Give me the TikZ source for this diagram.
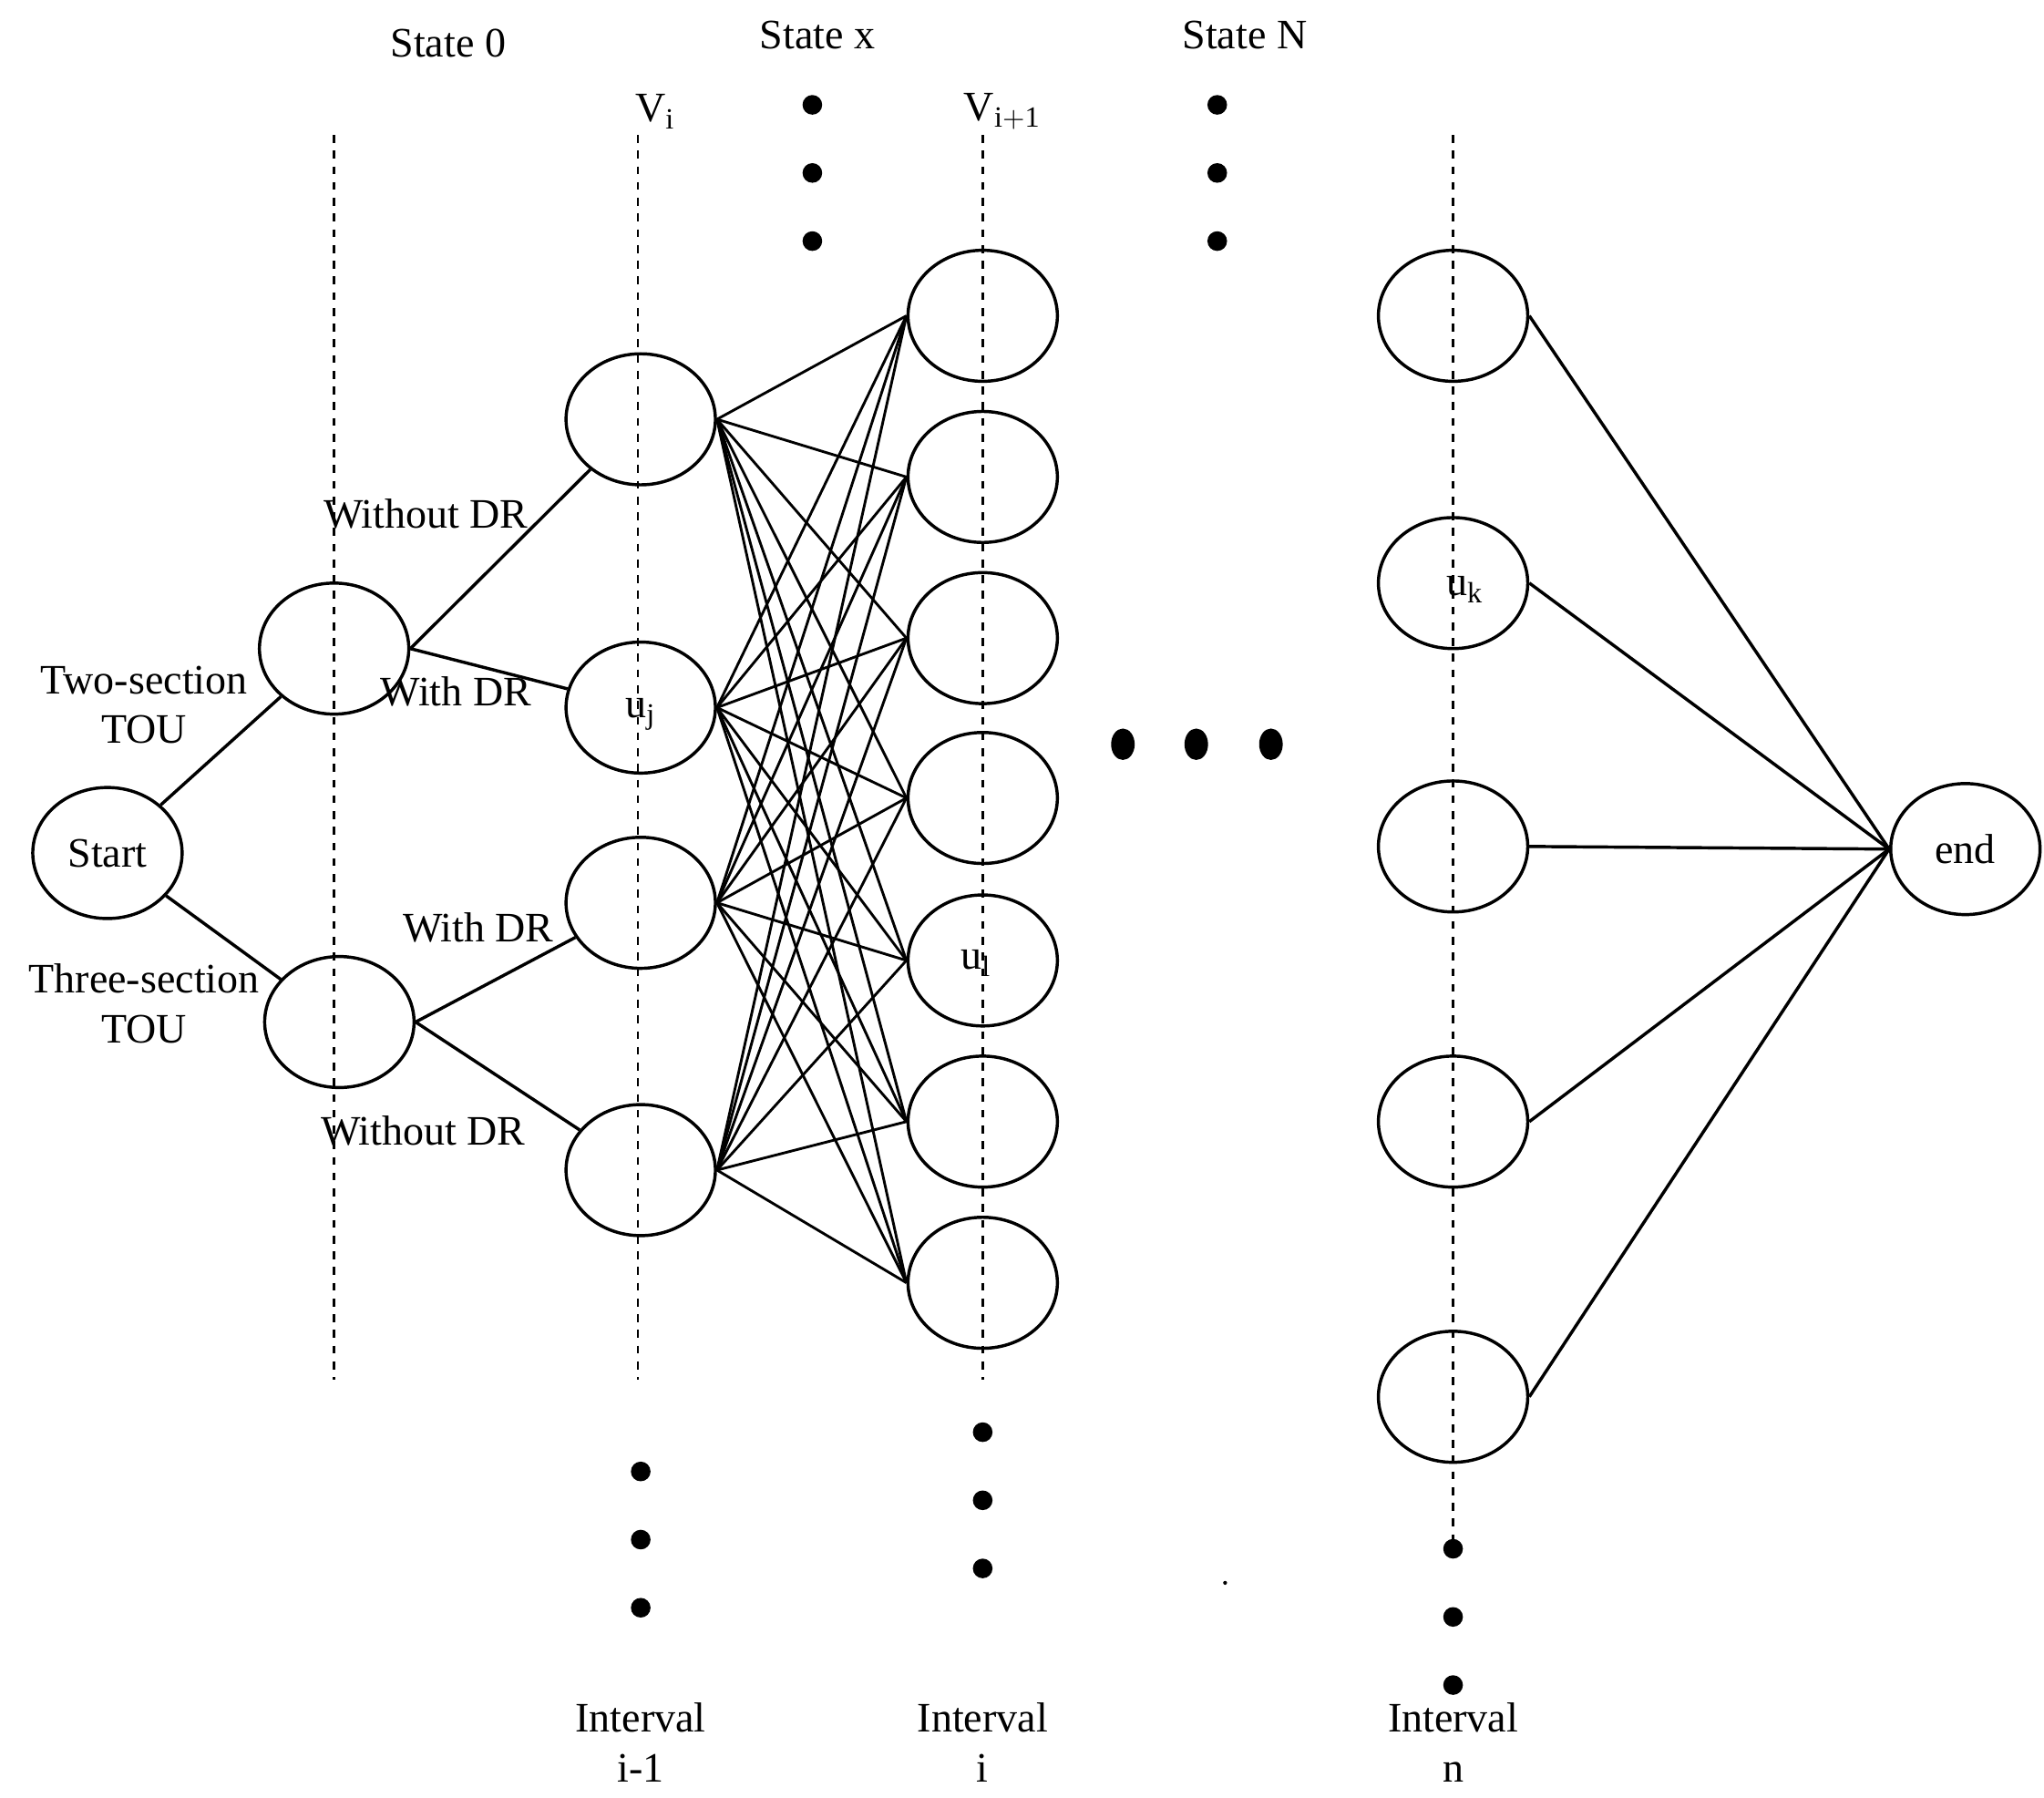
\documentclass[tikz,border=0pt]{standalone}
\usepackage{fontspec}
\setmainfont{Liberation Serif}
\usetikzlibrary{shapes.geometric}
\begin{document}
\begin{tikzpicture}[x=0.5pt,y=-0.5pt,
  nd/.style={draw,line width=1.2pt,ellipse,minimum width=57pt,minimum height=50pt,inner sep=0pt},
  dsh/.style={dashed,line width=0.8pt},
  ln/.style={line width=1.2pt},
  dt/.style={fill,circle,inner sep=0pt,minimum size=7.5pt},
  lb/.style={font=\fontsize{16}{19}\selectfont,align=center,inner sep=0pt}]
\useasboundingbox (0,0) rectangle (1560,1372);
\draw[dsh] (255,103) -- (255,1053);
\draw[dsh] (487,103) -- (487,1053);
\draw[dsh] (750,103) -- (750,1053);
\draw[dsh] (1109,103) -- (1109,1180);
\node[nd] (s) at (82,651) {};
\node[lb] at (82,651) {Start};
\node[nd] (a) at (255,495) {};
\node[nd] (b) at (259,780) {};
\foreach \i/\y in {1/320,2/540,3/689,4/893} \node[nd] (L\i) at (489,\y) {};
\foreach \i/\y in {1/241,2/364,3/487,4/609,5/733,6/856,7/979} \node[nd] (M\i) at (750,\y) {};
\foreach \i/\y in {1/241,2/445,3/646,4/856,5/1066} \node[nd] (R\i) at (1109,\y) {};
\node[nd] (e) at (1500,648) {};
\node[lb] at (1500,648) {end};
\draw[ln] (s) -- (a); \draw[ln] (s) -- (b);
\draw[ln] (a.east) -- (L1); \draw[ln] (a.east) -- (L2);
\draw[ln] (b.east) -- (L3); \draw[ln] (b.east) -- (L4);
\foreach \i in {1,...,4} \foreach \j in {1,...,7} \draw[line width=1pt] (L\i.east) -- (M\j.west);
\foreach \i in {1,...,5} \draw[ln] (R\i.east) -- (e.west);
\node[lb] at (489,545) {u$_{\mathrm{j}}$};
\node[lb] at (745,735) {u$_{\mathrm{l}}$};
\node[lb] at (1118,450) {u$_{\mathrm{k}}$};
\node[lb] at (342,33) {State 0};
\node[lb] at (624,27) {State x};
\node[lb] at (950,27) {State N};
\node[lb] at (500,85) {V$_{\mathrm{i}}$};
\node[lb] at (765,85) {V$_{\mathrm{i+1}}$};
\node[lb] at (325,392) {Without DR};
\node[lb] at (348,528) {With DR};
\node[lb] at (365,708) {With DR};
\node[lb] at (323,863) {Without DR};
\node[lb] at (110,538) {Two-section\\TOU};
\node[lb] at (110,766) {Three-section\\TOU};
\node[lb] at (489,1330) {Interval\\i-1};
\node[lb] at (750,1330) {Interval\\i};
\node[lb] at (1109,1330) {Interval\\n};
\foreach \p in {(620,80),(620,132),(620,184),(929,80),(929,132),(929,184),
  (489,1123),(489,1175),(489,1227),(750,1093),(750,1145),(750,1197),
  (1109,1182),(1109,1234),(1109,1286)} \node[dt] at \p {};
\foreach \p in {(857,568),(913,568),(970,568)} \node[fill,ellipse,minimum width=9pt,minimum height=12pt,inner sep=0pt] at \p {};
\node[fill,circle,inner sep=0pt,minimum size=1.5pt] at (935,1208) {};
\end{tikzpicture}
\end{document}
